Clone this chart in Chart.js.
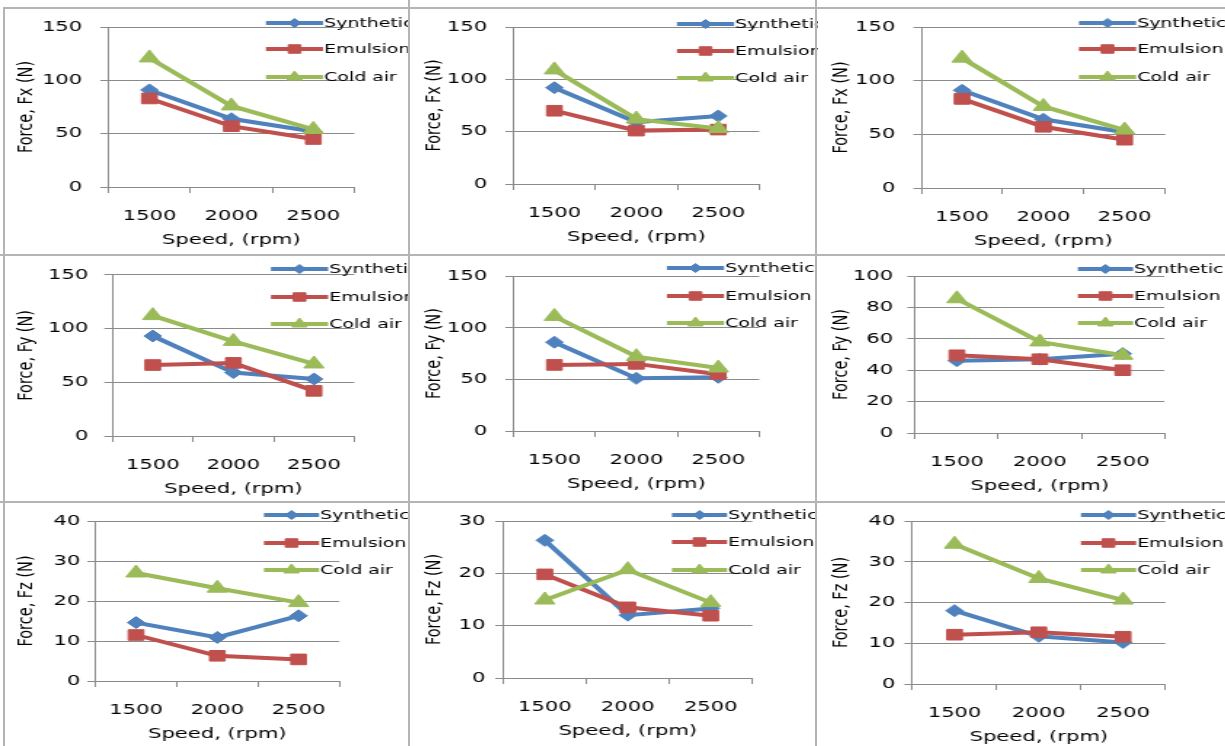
<!DOCTYPE html>
<html>
<head>
<meta charset="utf-8">
<script src="https://cdn.jsdelivr.net/npm/chart.js@4.4.0/dist/chart.umd.min.js"></script>
<style>
    html, body { margin: 0; padding: 0; background: #fff; }
    body { width: 1225px; height: 746px; position: relative; overflow: hidden; }
    .cell { position: absolute; transform-origin: 0 0; }
    .rule { position: absolute; background: #b4b4b4; z-index: 5; }
</style>
</head>
<body>
<script>
const speeds = ['1500', '2000', '2500'];
const seriesNames = ['Synthetic', 'Emulsion', 'Cold air'];

// Fx panels (top row)
const fxASynthetic = [91, 64, 52];
const fxAEmulsion = [83, 57, 45];
const fxAColdAir = [121, 76, 54];

const fxBSynthetic = [92, 59, 65];
const fxBEmulsion = [70, 51, 52];
const fxBColdAir = [109, 62, 53];

const fxCSynthetic = [91, 64, 52];
const fxCEmulsion = [83, 57, 45];
const fxCColdAir = [121, 76, 54];

// Fy panels (middle row)
const fyASynthetic = [93, 59, 53];
const fyAEmulsion = [66, 68, 42];
const fyAColdAir = [112, 88, 67];

const fyBSynthetic = [86, 51, 52];
const fyBEmulsion = [64, 65, 55];
const fyBColdAir = [111, 72, 61];

const fyCSynthetic = [46, 47, 50.5];
const fyCEmulsion = [49.5, 47, 40];
const fyCColdAir = [85.5, 58, 49.5];

// Fz panels (bottom row)
const fzASynthetic = [14.6, 10.9, 16.3];
const fzAEmulsion = [11.5, 6.3, 5.4];
const fzAColdAir = [27, 23.2, 19.6];

const fzBSynthetic = [26.3, 12.0, 13.3];
const fzBEmulsion = [19.8, 13.5, 11.9];
const fzBColdAir = [14.9, 20.7, 14.4];

const fzCSynthetic = [18.0, 11.7, 10.2];
const fzCEmulsion = [12.1, 12.7, 11.6];
const fzCColdAir = [34.3, 25.9, 20.6];

const yMaxes = [150, 150, 150, 150, 150, 100, 40, 30, 40];
const ySteps = [50, 50, 50, 50, 50, 20, 10, 10, 10];
const yTitles = ['Force, Fx (N)', 'Force, Fy (N)', 'Force, Fz (N)'];

// the source picture is stretched sideways, so every chart is drawn narrow and scaled in x
const S = 1.45;
const colX = [0, 408, 815];
const rowY = [0, 255, 500];
const rowH = [255, 247, 246];
const cellW = 410;

const colors = ['#4F81BD', '#C0504D', '#9BBB59'];
const markers = ['rectRot', 'rect', 'triangle'];
const markerR = [6, 7.5, 8];
const legendR = [4.5, 6, 6];
const textColor = '#000';
const gridColor = '#8a8a8a';
const tickFont = {family: '"DejaVu Sans", Verdana, sans-serif', size: 14.5};

const panels = [
    {col: 0, row: 0, series: [fxASynthetic, fxAEmulsion, fxAColdAir], L: 108, R: 353, T: 27, B: 187, gap: 26, lg: [265, 322, 323], rows: [23, 49, 77]},
    {col: 1, row: 0, series: [fxBSynthetic, fxBEmulsion, fxBColdAir], L: 513, R: 758, T: 27, B: 184, gap: 26, lg: [676, 733, 734], rows: [24, 51, 78]},
    {col: 2, row: 0, series: [fxCSynthetic, fxCEmulsion, fxCColdAir], L: 921, R: 1164, T: 27, B: 188, gap: 26, lg: [1078, 1135, 1136], rows: [23, 49, 77]},
    {col: 0, row: 1, series: [fyASynthetic, fyAEmulsion, fyAColdAir], L: 112, R: 353, T: 273, B: 436, gap: 24, lg: [270, 327, 328], rows: [269, 297, 324]},
    {col: 1, row: 1, series: [fyBSynthetic, fyBEmulsion, fyBColdAir], L: 513, R: 758, T: 274, B: 431, gap: 26, lg: [666, 723, 724], rows: [268, 296, 323]},
    {col: 2, row: 1, series: [fyCSynthetic, fyCEmulsion, fyCColdAir], L: 915, R: 1163, T: 276, B: 433, gap: 22, lg: [1077, 1132, 1133], rows: [269, 296, 323]},
    {col: 0, row: 2, series: [fzASynthetic, fzAEmulsion, fzAColdAir], L: 95, R: 338, T: 521, B: 681, gap: 15, lg: [263, 318, 319], rows: [515, 543, 570]},
    {col: 1, row: 2, series: [fzBSynthetic, fzBEmulsion, fzBColdAir], L: 503, R: 751, T: 521, B: 678, gap: 18, lg: [671, 726, 727], rows: [515, 542, 570]},
    {col: 2, row: 2, series: [fzCSynthetic, fzCEmulsion, fzCColdAir], L: 912, R: 1164, T: 521, B: 684, gap: 17, lg: [1080, 1135, 1136], rows: [515, 543, 570]}
];

// legend sits partly over the plot, like the original, so draw it by hand
const sideLegend = {
    id: 'sideLegend',
    afterDraw(chart, args, opts) {
        const ctx = chart.ctx;
        chart.data.datasets.forEach((ds, k) => {
            const y = opts.rows[k];
            ctx.save();
            ctx.strokeStyle = ds.borderColor;
            ctx.fillStyle = ds.backgroundColor;
            ctx.lineWidth = 4;
            ctx.beginPath();
            ctx.moveTo(opts.x1, y);
            ctx.lineTo(opts.x2, y);
            ctx.stroke();
            ctx.lineWidth = 1;
            Chart.helpers.drawPoint(ctx, {pointStyle: ds.pointStyle, radius: legendR[k], borderWidth: 1, rotation: 0}, (opts.x1 + opts.x2) / 2, y);
            ctx.fillStyle = textColor;
            ctx.font = '13px "DejaVu Sans", Verdana, sans-serif';
            ctx.textBaseline = 'middle';
            ctx.textAlign = 'left';
            ctx.fillText(ds.label, opts.tx, y + 1);
            ctx.restore();
        });
    }
};

panels.forEach((p, i) => {
    const x0 = colX[p.col], y0 = rowY[p.row], h = rowH[p.row];
    const w = cellW / S;
    const div = document.createElement('div');
    div.className = 'cell';
    div.style.left = x0 + 'px';
    div.style.top = y0 + 'px';
    div.style.width = w + 'px';
    div.style.height = h + 'px';
    div.style.transform = 'scaleX(' + S + ')';
    const canvas = document.createElement('canvas');
    div.appendChild(canvas);
    document.body.appendChild(div);

    const axisL = (p.L - x0) / S;
    const axisR = (p.R - x0) / S;
    const lineH = tickFont.size * 1.2;
    const xH = 53 + lineH / 2;

    new Chart(canvas, {
        type: 'line',
        data: {
            labels: speeds,
            datasets: p.series.map((d, k) => ({
                label: seriesNames[k],
                data: d,
                borderColor: colors[k],
                backgroundColor: colors[k],
                borderWidth: 4,
                pointStyle: markers[k],
                pointRadius: markerR[k],
                pointBorderWidth: 1,
                tension: 0,
                order: 2 - k
            }))
        },
        options: {
            responsive: true,
            maintainAspectRatio: false,
            animation: false,
            layout: {
                padding: {left: 0, right: w - axisR, top: p.T - y0, bottom: h - (p.B - y0) - xH}
            },
            plugins: {
                legend: {display: false},
                tooltip: {enabled: false},
                sideLegend: {
                    x1: (p.lg[0] - x0) / S,
                    x2: (p.lg[1] - x0) / S,
                    tx: (p.lg[2] - x0) / S,
                    rows: p.rows.map(r => r - y0)
                }
            },
            scales: {
                x: {
                    offset: true,
                    grid: {offset: true, drawOnChartArea: false, drawTicks: true, tickLength: 6, color: gridColor},
                    border: {color: gridColor},
                    ticks: {font: tickFont, color: textColor, padding: 29 - 6 - lineH / 2, maxRotation: 0},
                    title: {display: true, text: 'Speed, (rpm)', font: tickFont, color: textColor, padding: {top: 0, bottom: 0}},
                    afterFit: scale => { scale.height = xH; }
                },
                y: {
                    min: 0,
                    max: yMaxes[i],
                    ticks: {stepSize: ySteps[i], font: tickFont, color: textColor, padding: p.gap / S - 5.5},
                    grid: {color: gridColor, tickLength: 5.5},
                    border: {color: gridColor},
                    title: {display: true, text: yTitles[p.row], font: tickFont, color: textColor, padding: {top: 26 / S - lineH / 2, bottom: 0}},
                    afterFit: scale => { scale.width = axisL; }
                }
            }
        },
        plugins: [sideLegend]
    });
});

// panel frames
[[3, 7, 2, 746], [408, 0, 2, 746], [815, 0, 2, 746], [3, 7, 1222, 2], [0, 254, 1225, 2], [0, 501, 1225, 2]].forEach(r => {
    const d = document.createElement('div');
    d.className = 'rule';
    d.style.left = r[0] + 'px';
    d.style.top = r[1] + 'px';
    d.style.width = r[2] + 'px';
    d.style.height = r[3] + 'px';
    document.body.appendChild(d);
});
</script>
</body>
</html>
